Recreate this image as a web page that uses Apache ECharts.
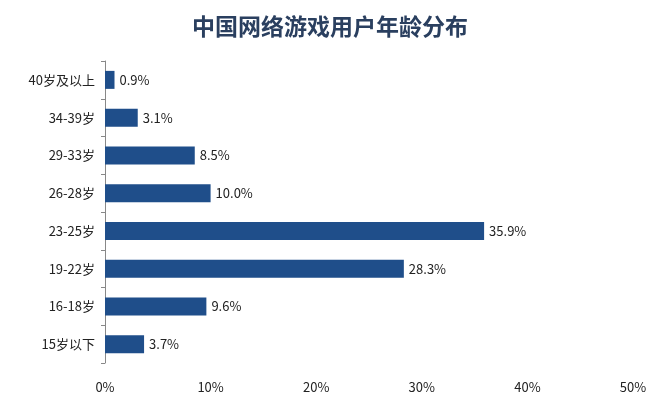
<!DOCTYPE html>
<html><head><meta charset="utf-8">
<script src="https://cdn.jsdelivr.net/npm/echarts@6/dist/echarts.min.js"></script>
<style>html,body{margin:0;padding:0;background:#fff}#c{width:660px;height:413px}</style>
</head><body><div id="c"></div>
<script>
const categories = ['15岁以下','16-18岁','19-22岁','23-25岁','26-28岁','29-33岁','34-39岁','40岁及以上'];
const values = [3.7, 9.6, 28.3, 35.9, 10.0, 8.5, 3.1, 0.9];
const xTicks = [0, 10, 20, 30, 40, 50];
const chart = echarts.init(document.getElementById('c'));
chart.setOption({
  animation: false,
  title: {text: '中国网络游戏用户年龄分布', left: 'center', top: 10,
    textStyle: {fontFamily: 'Noto Sans CJK SC', fontSize: 23, fontWeight: 'bold', color: '#2a3f5f'}},
  grid: {left: 105, right: 27, top: 61, bottom: 50},
  xAxis: {type: 'value', min: xTicks[0], max: xTicks[xTicks.length-1], interval: 10,
    splitLine: {show: false}, axisLine: {show: false}, axisTick: {show: false},
    axisLabel: {formatter: '{value}%', color: '#222', fontSize: 13, margin: 18, fontFamily: 'Noto Sans CJK SC'}},
  yAxis: {type: 'category', data: categories,
    axisLine: {show: true, lineStyle: {color: '#888'}},
    axisTick: {show: true, inside: false, length: 4, lineStyle: {color: '#888'}},
    axisLabel: {color: '#222', fontSize: 13, margin: 10, fontFamily: 'Noto Sans CJK SC'}},
  series: [{type: 'bar', data: values, barWidth: 18,
    itemStyle: {color: '#1f4e8a'},
    label: {show: true, position: 'right', formatter: p => p.value.toFixed(1) + '%',
      color: '#222', fontSize: 13, distance: 5, fontFamily: 'Noto Sans CJK SC'}}]
});
</script></body></html>
